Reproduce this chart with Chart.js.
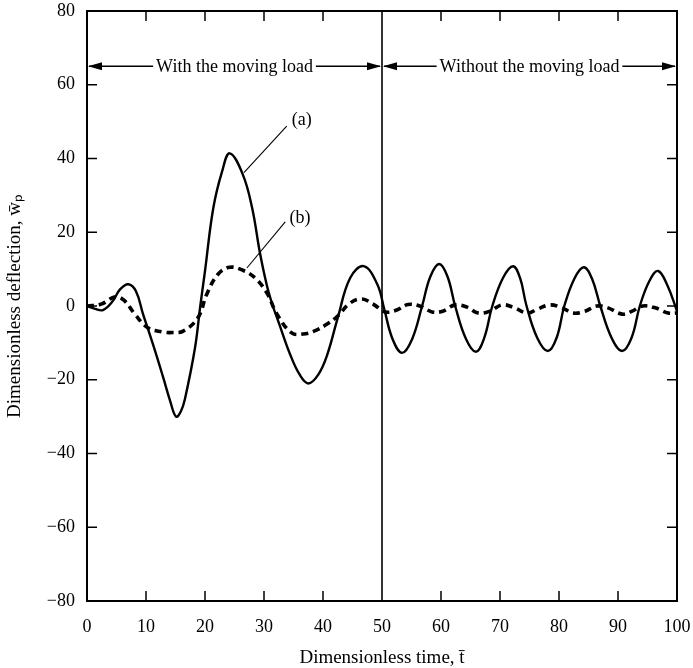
<!DOCTYPE html>
<html>
<head>
<meta charset="utf-8">
<script src="https://cdn.jsdelivr.net/npm/chart.js@4.4.1/dist/chart.umd.min.js"></script>
<style>
  html, body { margin: 0; padding: 0; background: #fff; }
  #wrap { width: 693px; height: 668px; }
</style>
</head>
<body>
<div id="wrap"><canvas id="chart"></canvas></div>
<script>
// Courbe (a) : trait plein
const tA = [0, 1.4, 2.7, 4.3, 5.6, 7, 8.3, 9.5, 11.2, 12.9, 14.1, 15.1, 15.9, 16.6, 18.3, 19.2, 20, 21.4, 22.9, 24.2, 26.4, 28, 29.3, 30.5, 31.5, 32.5, 34.4, 36, 37.5, 39.2, 40.7, 42.5, 44.6, 46.9, 49.2, 50.4,
  51.8, 53.4, 55.1, 56.8, 58.2, 59.7, 61.1, 62.4, 64.2, 65.9, 67.3, 68.7, 70.5, 72.2, 73.4, 74.5, 76.3, 78.1, 79.6, 80.9, 82.6, 84.2, 85.6, 87, 88.9, 90.7, 92.3, 93.7, 95.3, 96.8, 98.4, 100];
const wA = [0, -0.8, -1.1, 1.2, 4.5, 5.9, 4, -2.2, -10.5, -19.3, -25.8, -30, -28.6, -25.2, -11.4, 0, 9.5, 26.5, 36.5, 41.4, 35.7, 26.5, 14.5, 5.5, 0, -4.5, -13, -18.5, -21, -18.6, -13.3, -3.2, 7.6, 10.8, 5.9, -1,
  -9, -12.7, -9, 0, 8, 11.4, 8, 0, -8.8, -12.4, -8.8, 0, 7.6, 10.8, 7.6, 0, -8.6, -12.2, -8.6, 0, 7.4, 10.5, 7.4, 0, -8.6, -12.2, -8.6, 0, 6.7, 9.5, 5.5, -1.4];

// Courbe (b) : tirets
const tB = [0, 2.4, 4.8, 6.3, 8.1, 10.3, 12.7, 14.5, 16.3, 18.8, 20.3, 22.2, 24.2, 26.4, 28.5, 30.5, 32.2, 34.7, 36.6, 38.5, 40.7, 42.5, 44.6, 46.6, 48.5, 50.6,
  52.5, 54.4, 56.4, 58.5, 60.3, 62.4, 64.4, 66.3, 68.3, 70.3, 72.2, 74.6, 76.4, 78.5, 80.5, 82.4, 84.4, 86.4, 88.3, 90.7, 92.4, 94.2, 96.3, 98.5, 100];
const wB = [0, 0.5, 2.5, 1.5, -2.2, -5.9, -7, -7.2, -6.8, -3.2, 3.2, 8.6, 10.5, 9.7, 7.6, 3.5, -2.2, -7.3, -7.6, -6.8, -4.9, -2.7, 0.8, 1.9, 0.5, -1.6,
  -1.1, 0.4, 0, -1.6, -1.4, 0.3, -0.3, -1.9, -1.4, 0.3, -0.3, -1.9, -0.8, 0.3, -0.5, -1.9, -1.4, 0, -0.5, -2.2, -1.4, 0, -0.5, -1.9, -1.9];

// Séparation avec / sans charge
const dividerT = 50;
const yMin = -80, yMax = 80, yStep = 20;
const xMin = 0, xMax = 100, xStep = 10;

// Annotations
const arrowW = 65;
const phaseLabels = ["With the moving load", "Without the moving load"];
const phaseRanges = [[0, 50], [50, 100]];
const curveLabels = ["(a)", "(b)"];
const curveLabelT = [36.4, 36.1];
const curveLabelW = [50.4, 23.9];
const leaderT = [[33.85, 26.6], [33.6, 27.1]];
const leaderW = [[48.8, 36.2], [22.8, 10.3]];

const xTitle = "Dimensionless time, t\u0304";
const yTitle = "Dimensionless deflection, w\u0304\u209A";

const serif = "'Liberation Serif', 'Times New Roman', serif";

function toPoints(xs, ys) {
    return xs.map((x, i) => ({ x: x, y: ys[i] }));
}

function arrowHead(ctx, x, y, dir) {
    ctx.beginPath();
    ctx.moveTo(x, y);
    ctx.lineTo(x - dir * 14, y - 4);
    ctx.lineTo(x - dir * 14, y + 4);
    ctx.closePath();
    ctx.fill();
}

// Cadre, graduations intérieures et textes
const decorPlugin = {
    id: 'decor',
    afterDatasetsDraw(chart) {
        const ctx = chart.ctx;
        const xs = chart.scales.x, ys = chart.scales.y;
        const a = chart.chartArea;
        ctx.save();
        ctx.strokeStyle = '#000';
        ctx.fillStyle = '#000';

        // graduations
        ctx.lineWidth = 1.5;
        ctx.beginPath();
        for (let v = yMin + yStep; v < yMax; v += yStep) {
            const py = ys.getPixelForValue(v);
            ctx.moveTo(a.left, py); ctx.lineTo(a.left + 10, py);
            ctx.moveTo(a.right, py); ctx.lineTo(a.right - 10, py);
        }
        for (let t = xMin + xStep; t < xMax; t += xStep) {
            if (t === dividerT) continue;
            const px = xs.getPixelForValue(t);
            ctx.moveTo(px, a.bottom); ctx.lineTo(px, a.bottom - 10);
            ctx.moveTo(px, a.top); ctx.lineTo(px, a.top + 10);
        }
        ctx.stroke();

        // cadre
        ctx.lineWidth = 2;
        ctx.strokeRect(a.left, a.top, a.right - a.left, a.bottom - a.top);

        // flèches et textes des phases
        ctx.font = '18px ' + serif;
        ctx.textAlign = 'center';
        ctx.textBaseline = 'middle';
        ctx.lineWidth = 1.5;
        const py = ys.getPixelForValue(arrowW);
        phaseLabels.forEach((txt, i) => {
            const x0 = xs.getPixelForValue(phaseRanges[i][0]);
            const x1 = xs.getPixelForValue(phaseRanges[i][1]);
            const cx = (x0 + x1) / 2;
            const w = ctx.measureText(txt).width;
            ctx.fillText(txt, cx, py + 1);
            ctx.beginPath();
            ctx.moveTo(x0 + 2, py); ctx.lineTo(cx - w / 2 - 3, py);
            ctx.moveTo(cx + w / 2 + 3, py); ctx.lineTo(x1 - 2, py);
            ctx.stroke();
            arrowHead(ctx, x0 + 1, py, -1);
            arrowHead(ctx, x1 - 1, py, 1);
        });

        // étiquettes (a) et (b)
        curveLabels.forEach((txt, i) => {
            ctx.fillText(txt, xs.getPixelForValue(curveLabelT[i]), ys.getPixelForValue(curveLabelW[i]));
        });
        ctx.restore();
    }
};

const datasets = [
    {
        label: 'a',
        data: toPoints(tA, wA),
        borderColor: '#000',
        borderWidth: 2.4,
        tension: 0.4,
        pointRadius: 0,
        fill: false
    },
    {
        label: 'b',
        data: toPoints(tB, wB),
        borderColor: '#000',
        borderWidth: 3.6,
        borderDash: [7, 5],
        tension: 0.4,
        pointRadius: 0,
        fill: false
    },
    {
        label: 'divider',
        data: [{ x: dividerT, y: yMin }, { x: dividerT, y: yMax }],
        borderColor: '#000',
        borderWidth: 1.6,
        pointRadius: 0,
        tension: 0
    }
];
leaderT.forEach((lt, i) => {
    datasets.push({
        label: 'leader' + i,
        data: toPoints(lt, leaderW[i]),
        borderColor: '#000',
        borderWidth: 1.1,
        pointRadius: 0,
        tension: 0
    });
});

document.addEventListener('DOMContentLoaded', () => {
    new Chart(document.getElementById('chart').getContext('2d'), {
        type: 'line',
        data: { datasets: datasets },
        options: {
            responsive: true,
            maintainAspectRatio: false,
            animation: false,
            devicePixelRatio: 1,
            layout: { padding: { top: 11, right: 16, left: 0, bottom: 0 } },
            plugins: { legend: { display: false }, tooltip: { enabled: false } },
            scales: {
                x: {
                    type: 'linear',
                    min: xMin,
                    max: xMax,
                    grid: { display: false, drawTicks: false },
                    border: { display: false },
                    ticks: { stepSize: xStep, color: '#000', font: { family: serif, size: 18 }, padding: 15 },
                    title: { display: true, text: xTitle, color: '#000', font: { family: serif, size: 19, lineHeight: 1 }, padding: { top: 0, bottom: 0 } },
                    afterFit: (s) => { s.height = 67; s.paddingLeft = 0; s.paddingRight = 0; }
                },
                y: {
                    min: yMin,
                    max: yMax,
                    grid: { display: false, drawTicks: false },
                    border: { display: false },
                    ticks: {
                        stepSize: yStep,
                        color: '#000',
                        font: { family: serif, size: 18 },
                        padding: 12,
                        callback: (v) => v < 0 ? '\u2212' + Math.abs(v) : String(v)
                    },
                    title: { display: true, text: yTitle, color: '#000', font: { family: serif, size: 19 }, padding: { top: 4, bottom: 0 } },
                    afterFit: (s) => { s.width = 87; s.paddingTop = 0; s.paddingBottom = 0; }
                }
            }
        },
        plugins: [decorPlugin]
    });
});
</script>
</body>
</html>
